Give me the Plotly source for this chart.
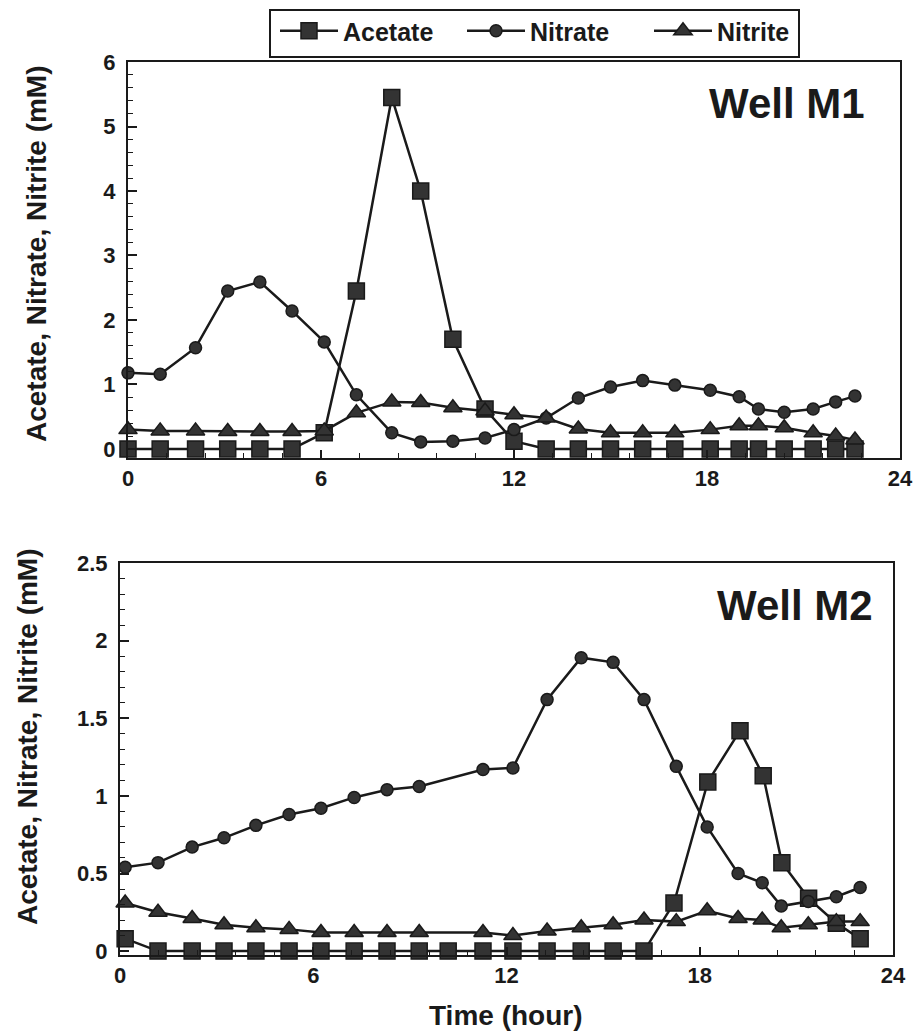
import plotly.graph_objects as go

# ---------------- Well M1 data ----------------
m1_time = [0, 1.0, 2.1, 3.1, 4.1, 5.1, 6.1, 7.1, 8.2, 9.1, 10.1, 11.1, 12.0,
           13.0, 14.0, 15.0, 16.0, 17.0, 18.1, 19.0, 19.6, 20.4, 21.3, 22.0, 22.6]
m1_acetate = [0, 0, 0, 0, 0, 0, 0.25, 2.45, 5.45, 4.0, 1.7, 0.62, 0.12,
              0, 0, 0, 0, 0, 0, 0, 0, 0, 0, 0, 0]
m1_nitrate = [1.18, 1.16, 1.57, 2.45, 2.59, 2.14, 1.66, 0.84, 0.25, 0.11, 0.12, 0.17, 0.30,
              0.48, 0.79, 0.96, 1.06, 0.99, 0.91, 0.81, 0.62, 0.57, 0.62, 0.73, 0.82]
m1_nitrite = [0.30, 0.28, 0.28, 0.27, 0.27, 0.27, 0.28, 0.56, 0.73, 0.72, 0.64, 0.59, 0.53,
              0.48, 0.31, 0.25, 0.25, 0.25, 0.30, 0.36, 0.36, 0.33, 0.25, 0.20, 0.14]

# ---------------- Well M2 data ----------------
m2_time_acetate = [0.16, 1.18, 2.24, 3.23, 4.22, 5.25, 6.24, 7.27, 8.29, 9.29, 10.19, 11.27,
                   12.2, 13.26, 14.32, 15.31, 16.27, 17.2, 18.25, 19.25, 19.97, 20.55,
                   21.38, 22.24, 22.98]
m2_acetate = [0.08, 0, 0, 0, 0, 0, 0, 0, 0, 0, 0, 0,
              0, 0, 0, 0, 0, 0.31, 1.09, 1.42, 1.13, 0.57,
              0.34, 0.18, 0.08]
m2_time = [0.16, 1.18, 2.24, 3.23, 4.22, 5.25, 6.24, 7.27, 8.29, 9.29, 11.27,
           12.2, 13.26, 14.32, 15.31, 16.27, 17.27, 18.23, 19.19, 19.94, 20.53,
           21.37, 22.24, 22.98]
m2_nitrate = [0.54, 0.57, 0.67, 0.73, 0.81, 0.88, 0.92, 0.99, 1.04, 1.06, 1.17,
              1.18, 1.62, 1.89, 1.86, 1.62, 1.19, 0.80, 0.50, 0.44, 0.29,
              0.32, 0.35, 0.41]
m2_nitrite = [0.31, 0.25, 0.21, 0.17, 0.15, 0.14, 0.12, 0.12, 0.12, 0.12, 0.12,
              0.10, 0.13, 0.15, 0.17, 0.20, 0.19, 0.26, 0.21, 0.20, 0.15,
              0.17, 0.19, 0.19]

series_names = ["Acetate", "Nitrate", "Nitrite"]
x_ticks = [0, 6, 12, 18, 24]
panel_labels = ["Well M1", "Well M2"]
y_title = "Acetate, Nitrate, Nitrite (mM)"
x_title = "Time (hour)"

W, H = 916, 1034
FONT = "Liberation Sans, Arial, sans-serif"
INK = "#1a1a1a"
FILL = "#333333"

styles = {
    "Acetate": dict(symbol="square", size=16),
    "Nitrate": dict(symbol="circle", size=12),
    "Nitrite": dict(symbol="triangle-up", size=16),
}

fig = go.Figure()


def add(x, y, name, xa, ya, show):
    st = styles[name]
    fig.add_trace(go.Scatter(
        x=x, y=y, name=name, mode="lines+markers", xaxis=xa, yaxis=ya,
        showlegend=show, cliponaxis=False,
        line=dict(color=INK, width=2.5),
        marker=dict(symbol=st["symbol"], size=st["size"], color=FILL,
                    line=dict(color=INK, width=1.5)),
    ))


add(m1_time, m1_acetate, series_names[0], "x", "y", True)
add(m1_time, m1_nitrate, series_names[1], "x", "y", True)
add(m1_time, m1_nitrite, series_names[2], "x", "y", True)
add(m2_time_acetate, m2_acetate, series_names[0], "x2", "y2", False)
add(m2_time, m2_nitrate, series_names[1], "x2", "y2", False)
add(m2_time, m2_nitrite, series_names[2], "x2", "y2", False)


def px_x(p):
    return p / W


def px_y(p):
    return 1 - p / H


tickfont = dict(family=FONT, size=22, color=INK, weight="bold")

xcommon = dict(range=[0, 24], tickvals=x_ticks, ticks="inside", ticklen=8, tickwidth=1.5,
               tickcolor=INK, showline=True, linecolor=INK, linewidth=2, mirror=True,
               showgrid=False, zeroline=False, tickfont=tickfont,
               minor=dict(tick0=0, dtick=1.2, ticks="inside", ticklen=5, tickcolor=INK,
                          tickwidth=1.2, showgrid=False))
ycommon = dict(ticks="inside", ticklen=9, tickwidth=1.5, tickcolor=INK, showline=True,
               linecolor=INK, linewidth=2, mirror=True, showgrid=False, zeroline=False,
               tickfont=tickfont, ticklabelstandoff=6)

fig.update_layout(
    width=W, height=H, margin=dict(l=0, r=0, t=0, b=0, autoexpand=False),
    paper_bgcolor="white", plot_bgcolor="white",
    xaxis=dict(domain=[px_x(128), px_x(900)], anchor="y", **xcommon),
    yaxis=dict(domain=[px_y(458), px_y(62)], anchor="x", range=[-0.14, 6], dtick=1,
               minor=dict(dtick=0.2, ticks="inside", ticklen=5, tickcolor=INK,
                          tickwidth=1.2, showgrid=False), **ycommon),
    xaxis2=dict(domain=[px_x(120), px_x(893)], anchor="y2", **xcommon),
    yaxis2=dict(domain=[px_y(955), px_y(563)], anchor="x2", range=[-0.025, 2.5], dtick=0.5,
                minor=dict(dtick=0.1, ticks="inside", ticklen=5, tickcolor=INK,
                           tickwidth=1.2, showgrid=False), **ycommon),
    legend=dict(orientation="h", x=px_x(275), xanchor="left", y=px_y(8), yanchor="top",
                bgcolor="rgba(0,0,0,0)", borderwidth=0,
                font=dict(family=FONT, size=25, color=INK, weight="bold"),
                entrywidth=114, entrywidthmode="pixels", itemwidth=58),
    showlegend=True,
)

# frame around the legend
fig.add_shape(type="rect", xref="paper", yref="paper", x0=px_x(270), x1=px_x(799),
              y0=px_y(57), y1=px_y(10), line=dict(color=INK, width=2), fillcolor="rgba(0,0,0,0)",
              layer="above")

ann_font = dict(family=FONT, color=INK, weight="bold")
fig.add_annotation(text=panel_labels[0], xref="paper", yref="paper", x=px_x(867), y=px_y(103),
                   xanchor="right", yanchor="middle", showarrow=False,
                   font=dict(size=42, **ann_font))
fig.add_annotation(text=panel_labels[1], xref="paper", yref="paper", x=px_x(875), y=px_y(605),
                   xanchor="right", yanchor="middle", showarrow=False,
                   font=dict(size=42, **ann_font))
fig.add_annotation(text=y_title, xref="paper", yref="paper", x=px_x(36), y=px_y(254),
                   xanchor="center", yanchor="middle", textangle=-90, showarrow=False,
                   font=dict(size=28, **ann_font))
fig.add_annotation(text=y_title, xref="paper", yref="paper", x=px_x(27), y=px_y(737),
                   xanchor="center", yanchor="middle", textangle=-90, showarrow=False,
                   font=dict(size=28, **ann_font))
fig.add_annotation(text=x_title, xref="paper", yref="paper", x=px_x(505), y=px_y(1015),
                   xanchor="center", yanchor="middle", showarrow=False,
                   font=dict(size=28, **ann_font))

fig.write_html("out.html")
